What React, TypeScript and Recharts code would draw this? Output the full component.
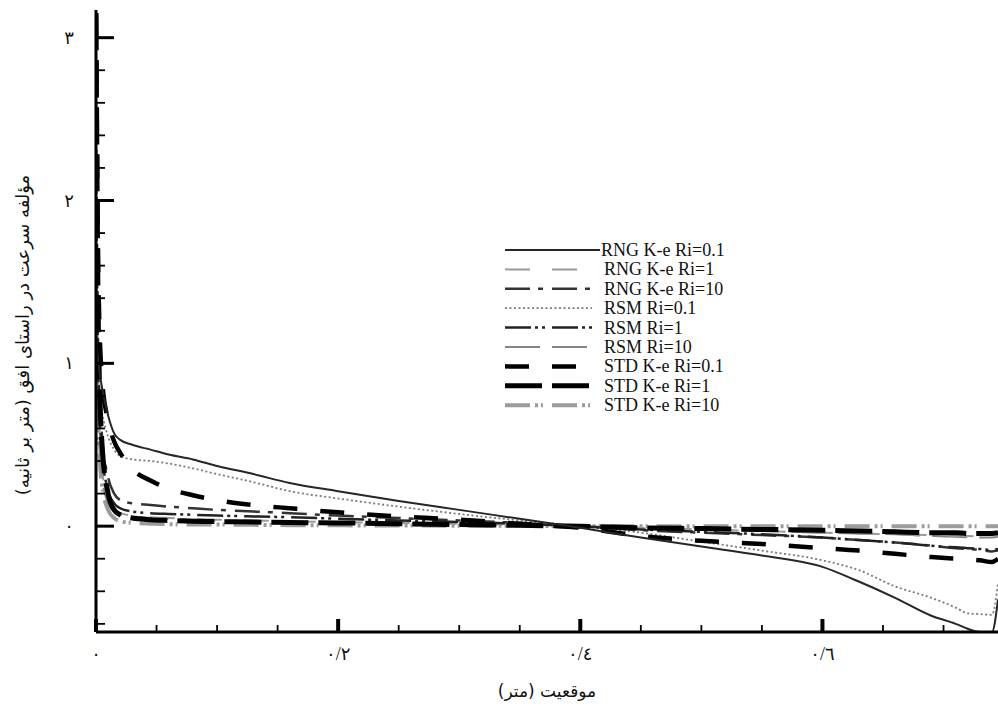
import React from 'react'
import { LineChart, Line, XAxis, YAxis, Legend } from 'recharts'

// position along the channel (m)
const positions = [
  0, 0.002, 0.005, 0.01, 0.015, 0.02, 0.03, 0.045, 0.06, 0.08, 0.1, 0.13, 0.16, 0.2, 0.25,
  0.3, 0.35, 0.4, 0.45, 0.5, 0.55, 0.6, 0.63, 0.66, 0.69, 0.71, 0.72, 0.73, 0.74, 0.745,
]

// horizontal velocity component (m/s) per model
const rngKe01 = [1.15, 1.0, 0.85, 0.68, 0.57, 0.53, 0.5, 0.47, 0.44, 0.41, 0.37, 0.32, 0.265, 0.215, 0.155, 0.1, 0.045, -0.01, -0.07, -0.125, -0.18, -0.25, -0.34, -0.44, -0.55, -0.6, -0.63, -0.65, -0.65, -0.45]
const rngKe1 = [1.3, 0.7, 0.35, 0.16, 0.1, 0.08, 0.065, 0.055, 0.05, 0.045, 0.04, 0.035, 0.03, 0.025, 0.02, 0.015, 0.01, 0, -0.01, -0.02, -0.03, -0.04, -0.045, -0.05, -0.055, -0.06, -0.06, -0.065, -0.065, -0.06]
const rngKe10 = [2.6, 1.0, 0.55, 0.3, 0.2, 0.16, 0.14, 0.13, 0.12, 0.11, 0.1, 0.09, 0.08, 0.065, 0.05, 0.035, 0.02, 0, -0.025, -0.04, -0.055, -0.07, -0.085, -0.1, -0.12, -0.135, -0.14, -0.145, -0.155, -0.15]
const rsm01 = [1.0, 0.85, 0.7, 0.55, 0.47, 0.43, 0.41, 0.4, 0.385, 0.355, 0.32, 0.27, 0.215, 0.17, 0.12, 0.075, 0.035, 0, -0.04, -0.095, -0.15, -0.21, -0.27, -0.37, -0.44, -0.5, -0.535, -0.54, -0.545, -0.35]
const rsm1 = [2.2, 0.9, 0.45, 0.22, 0.14, 0.11, 0.09, 0.08, 0.075, 0.07, 0.065, 0.06, 0.055, 0.045, 0.035, 0.025, 0.015, 0, -0.02, -0.035, -0.05, -0.07, -0.085, -0.1, -0.12, -0.13, -0.135, -0.14, -0.145, -0.14]
const rsm10 = [1.1, 0.6, 0.3, 0.14, 0.09, 0.07, 0.06, 0.05, 0.045, 0.04, 0.035, 0.03, 0.027, 0.023, 0.018, 0.013, 0.008, 0, -0.01, -0.02, -0.03, -0.04, -0.045, -0.05, -0.06, -0.065, -0.068, -0.07, -0.07, -0.065]
const stdKe01 = [3.15, 1.5, 0.9, 0.65, 0.52, 0.45, 0.35, 0.28, 0.23, 0.19, 0.16, 0.13, 0.11, 0.085, 0.06, 0.04, 0.015, -0.01, -0.06, -0.09, -0.11, -0.135, -0.15, -0.17, -0.19, -0.2, -0.205, -0.21, -0.22, -0.2]
const stdKe1 = [3.15, 1.2, 0.5, 0.2, 0.1, 0.07, 0.05, 0.04, 0.035, 0.03, 0.028, 0.025, 0.022, 0.02, 0.015, 0.01, 0.005, 0, -0.01, -0.015, -0.02, -0.025, -0.03, -0.035, -0.04, -0.04, -0.045, -0.045, -0.045, -0.04]
const stdKe10 = [1.6, 0.6, 0.25, 0.1, 0.05, 0.03, 0.02, 0.015, 0.012, 0.01, 0.01, 0.008, 0.006, 0.005, 0.004, 0.003, 0.002, 0, 0, 0, 0, 0, 0, 0, 0, 0, 0, 0, 0, 0]

const xTicks = [0, 0.05, 0.1, 0.15, 0.2, 0.25, 0.3, 0.35, 0.4, 0.45, 0.5, 0.55, 0.6, 0.65, 0.7]
const yTicks = [-0.6, -0.4, -0.2, 0, 0.2, 0.4, 0.6, 0.8, 1, 1.2, 1.4, 1.6, 1.8, 2, 2.2, 2.4, 2.6, 2.8, 3]
const xTickLabels: Record<string, string> = { '0': '٠', '0.2': '٠/٢', '0.4': '٠/٤', '0.6': '٠/٦' }
const yTickLabels: Record<string, string> = { '0': '٠', '1': '١', '2': '٢', '3': '٣' }

const xTitle = 'موقعیت (متر)'
const yTitle = 'مؤلفه سرعت در راستای افق (متر بر ثانیه)'

// legend order matches the figure; draw order is separate so black lines sit on top
const series = [
  { key: 'rngKe01', name: 'RNG K-e Ri=0.1', values: rngKe01, color: '#262626', width: 2, dash: undefined as string | undefined },
  { key: 'rngKe1', name: 'RNG K-e Ri=1', values: rngKe1, color: '#9a9a9a', width: 2, dash: '25 22' },
  { key: 'rngKe10', name: 'RNG K-e Ri=10', values: rngKe10, color: '#333333', width: 2.5, dash: '25 8 5 9' },
  { key: 'rsm01', name: 'RSM Ri=0.1', values: rsm01, color: '#7a7a7a', width: 1.8, dash: '2 2.5' },
  { key: 'rsm1', name: 'RSM Ri=1', values: rsm1, color: '#222222', width: 2.5, dash: '26 4 3 4 3 7' },
  { key: 'rsm10', name: 'RSM Ri=10', values: rsm10, color: '#858585', width: 2, dash: '35 12' },
  { key: 'stdKe01', name: 'STD K-e Ri=0.1', values: stdKe01, color: '#000000', width: 4.5, dash: '24 23' },
  { key: 'stdKe1', name: 'STD K-e Ri=1', values: stdKe1, color: '#000000', width: 5, dash: '37 10' },
  { key: 'stdKe10', name: 'STD K-e Ri=10', values: stdKe10, color: '#9c9c9c', width: 4, dash: '25 5 3 3 2 9' },
]
const drawOrder = ['stdKe10', 'rsm10', 'rngKe1', 'rsm01', 'rngKe10', 'rsm1', 'stdKe01', 'stdKe1', 'rngKe01']

const rows = positions.map((x, i) => {
  const row: Record<string, number> = { x }
  series.forEach((s) => {
    row[s.key] = s.values[i]
  })
  return row
})

const digitFont = "'Liberation Serif', 'DejaVu Sans', serif"

const YTick = (props: any) => {
  const { x, y, payload } = props
  const v = payload.value
  const major = Number.isInteger(v)
  return (
    <g>
      <line x1={x} x2={x + (major ? 18 : 9)} y1={y} y2={y} stroke="#000" strokeWidth={major ? 3 : 1.8} />
      {major && (
        <text x={x - 27} y={y} textAnchor="middle" dominantBaseline="central" fontSize={18} fontFamily={digitFont} fill="#111">
          {yTickLabels[String(v)]}
        </text>
      )}
    </g>
  )
}

const XTick = (props: any) => {
  const { x, y, payload } = props
  const v = payload.value
  const label = xTickLabels[String(v)]
  const major = label !== undefined
  return (
    <g>
      <line x1={x} x2={x} y1={y} y2={y - (major ? 13 : 7)} stroke="#000" strokeWidth={major ? 4 : 1.8} />
      {major && (
        <text x={x} y={y + 22} textAnchor="middle" dominantBaseline="central" fontSize={18} fontFamily={digitFont} fill="#111">
          {label}
        </text>
      )}
    </g>
  )
}

const renderLegend = () => (
  <svg width={260} height={180}>
    {series.map((s, i) => {
      const y = 10 + i * 19.4
      const first = i === 0
      return (
        <g key={s.key}>
          <line x1={0} x2={first ? 95 : 87} y1={y} y2={y} stroke={s.color} strokeWidth={s.width} strokeDasharray={s.dash} />
          <text x={first ? 96 : 99} y={y} dominantBaseline="central" fontSize={18} fontFamily="'Liberation Serif', serif" fill="#111">
            {s.name}
          </text>
        </g>
      )
    })}
  </svg>
)

export default function App() {
  return (
    <div style={{ position: 'absolute', left: 0, top: 0, width: 998, height: 709, overflow: 'hidden', background: '#fff' }}>
      <LineChart width={998} height={709} data={rows} margin={{ top: 10, right: 0, bottom: 37, left: 56 }}>
        <XAxis
          type="number"
          dataKey="x"
          domain={[0, 0.745]}
          ticks={xTicks}
          interval={0}
          height={40}
          tickSize={0}
          tickMargin={0}
          tickLine={false}
          axisLine={{ stroke: '#000', strokeWidth: 3 }}
          tick={<XTick />}
          allowDataOverflow
        />
        <YAxis
          type="number"
          domain={[-0.65, 3.17]}
          ticks={yTicks}
          interval={0}
          width={40}
          tickSize={0}
          tickMargin={0}
          tickLine={false}
          axisLine={{ stroke: '#000', strokeWidth: 3 }}
          tick={<YTick />}
          allowDataOverflow
        />
        <Legend
          layout="vertical"
          align="center"
          verticalAlign="middle"
          content={renderLegend}
          wrapperStyle={{ position: 'absolute', left: 505, top: 240, width: 260, height: 180 }}
        />
        {drawOrder.map((k) => {
          const s = series.find((d) => d.key === k)!
          return (
            <Line
              key={s.key}
              type="monotone"
              dataKey={s.key}
              name={s.name}
              stroke={s.color}
              strokeWidth={s.width}
              strokeDasharray={s.dash}
              dot={false}
              activeDot={false}
              isAnimationActive={false}
            />
          )
        })}
      </LineChart>
      <div
        dir="rtl"
        style={{ position: 'absolute', left: 547, top: 691, transform: 'translate(-50%, -50%)', whiteSpace: 'nowrap', fontSize: 17, fontFamily: "'DejaVu Sans', serif", color: '#111' }}
      >
        {xTitle}
      </div>
      <div
        dir="rtl"
        style={{ position: 'absolute', left: 22, top: 335, transform: 'translate(-50%, -50%) rotate(-90deg)', whiteSpace: 'nowrap', fontSize: 18, fontFamily: "'DejaVu Sans', serif", color: '#111' }}
      >
        {yTitle}
      </div>
    </div>
  )
}
